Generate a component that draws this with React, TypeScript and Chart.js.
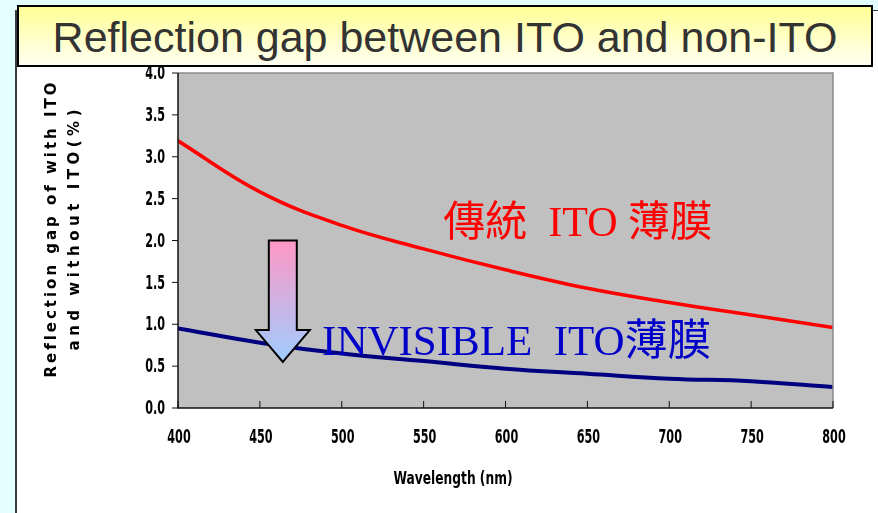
import React, { useEffect, useRef } from "react";
import { Chart, registerables } from "chart.js";

Chart.register(...registerables);

// ---- data ----
const wavelengths = [400, 450, 500, 550, 600, 650, 700, 750, 800];
const conventionalITO = [3.19, 2.58, 2.18, 1.9, 1.65, 1.43, 1.26, 1.11, 0.96];
const invisibleITO = [0.95, 0.78, 0.65, 0.56, 0.47, 0.41, 0.35, 0.32, 0.25];
const xTicks = [400, 450, 500, 550, 600, 650, 700, 750, 800];
const yTicks = [0, 0.5, 1, 1.5, 2, 2.5, 3, 3.5, 4];
const titleText = "Reflection gap between ITO and non-ITO";
const yTitleLines = ["Reflection gap of with ITO", "and without ITO(%)"];
const xTitleText = "Wavelength (nm)";
const redLabel = "傳統  ITO 薄膜";
const blueLabel = "INVISIBLE  ITO薄膜";
// annotation anchors (data coordinates)
const redLabelAt = { x: 562, y: 2.05 };
const blueLabelAt = { x: 488, y: 0.63 };
const arrowAt = { x: 464, top: 2.0, headBase: 0.93, tip: 0.55 };

const BOLD_FONT = "'DejaVu Sans', 'Liberation Sans', sans-serif";

function squeezed(ctx: CanvasRenderingContext2D, text: string, x: number, y: number, align: "left" | "center" | "right", sx: number) {
  ctx.save();
  ctx.translate(x, y);
  ctx.scale(sx, 1);
  ctx.textAlign = align;
  ctx.fillText(text, 0, 0);
  ctx.restore();
}

const decorPlugin = {
  id: "decor",
  beforeDatasetsDraw(chart: any) {
    const { ctx, chartArea: a } = chart;
    ctx.save();
    ctx.fillStyle = "#c0c0c0";
    ctx.fillRect(a.left, a.top, a.right - a.left, a.bottom - a.top);
    ctx.restore();
  },
  afterDatasetsDraw(chart: any) {
    const { ctx, chartArea: a } = chart;
    const xs = chart.scales.x;
    const ys = chart.scales.y;
    ctx.save();
    // frame
    ctx.lineWidth = 1.5;
    ctx.strokeStyle = "#8a8a8a";
    ctx.beginPath();
    ctx.moveTo(a.left, a.top);
    ctx.lineTo(a.right, a.top);
    ctx.lineTo(a.right, a.bottom);
    ctx.stroke();
    ctx.strokeStyle = "#111";
    ctx.beginPath();
    ctx.moveTo(a.left, a.top);
    ctx.lineTo(a.left, a.bottom);
    ctx.lineTo(a.right, a.bottom);
    ctx.stroke();

    // y ticks (outward) and labels
    ctx.lineWidth = 1;
    ctx.fillStyle = "#000";
    ctx.font = `bold 20px ${BOLD_FONT}`;
    ctx.textBaseline = "middle";
    yTicks.forEach((v) => {
      const py = ys.getPixelForValue(v);
      ctx.beginPath();
      ctx.moveTo(a.left - 6, py);
      ctx.lineTo(a.left, py);
      ctx.stroke();
      squeezed(ctx, v.toFixed(1), a.left - 13, py + 1, "right", 0.56);
    });
    // x ticks (inward) and labels
    xTicks.forEach((v) => {
      const px = xs.getPixelForValue(v);
      ctx.beginPath();
      ctx.moveTo(px, a.bottom);
      ctx.lineTo(px, a.bottom - 7);
      ctx.stroke();
      squeezed(ctx, String(v), px + 1, a.bottom + 30, "center", 0.56);
    });

    // x title
    ctx.font = `bold 18px ${BOLD_FONT}`;
    squeezed(ctx, xTitleText, 453, a.bottom + 71, "center", 0.68);

    // y title (rotated, spaced)
    ctx.font = "bold 15px 'DejaVu Sans', 'Liberation Sans', sans-serif";
    const targetLens = [295, 241];
    const centersX = [52, 75];
    yTitleLines.forEach((line, i) => {
      ctx.save();
      ctx.translate(centersX[i], 230);
      ctx.rotate(-Math.PI / 2);
      const chars = Array.from(line);
      const widths = chars.map((c) => ctx.measureText(c).width);
      const total = widths.reduce((s, w) => s + w, 0);
      const gap = (targetLens[i] - total) / (chars.length - 1);
      let cx = -targetLens[i] / 2;
      ctx.textAlign = "left";
      ctx.textBaseline = "middle";
      chars.forEach((c, k) => {
        ctx.fillText(c, cx, 0);
        cx += widths[k] + gap;
      });
      ctx.restore();
    });

    // arrow
    const ax = xs.getPixelForValue(arrowAt.x);
    const top = ys.getPixelForValue(arrowAt.top);
    const base = ys.getPixelForValue(arrowAt.headBase);
    const tip = ys.getPixelForValue(arrowAt.tip);
    const sw = 14;
    const hw = 27;
    const grad = ctx.createLinearGradient(0, top, 0, tip);
    grad.addColorStop(0, "#ff97c6");
    grad.addColorStop(1, "#9fcdff");
    ctx.beginPath();
    ctx.moveTo(ax - sw, top);
    ctx.lineTo(ax + sw, top);
    ctx.lineTo(ax + sw, base);
    ctx.lineTo(ax + hw, base);
    ctx.lineTo(ax, tip);
    ctx.lineTo(ax - hw, base);
    ctx.lineTo(ax - sw, base);
    ctx.closePath();
    ctx.fillStyle = grad;
    ctx.fill();
    ctx.lineWidth = 2;
    ctx.strokeStyle = "#000";
    ctx.lineJoin = "miter";
    ctx.stroke();

    // annotations
    ctx.textAlign = "left";
    ctx.textBaseline = "alphabetic";
    ctx.font = "42px 'Liberation Serif', 'Noto Sans CJK TC', serif";
    ctx.fillStyle = "#ff0000";
    ctx.fillText(redLabel, xs.getPixelForValue(redLabelAt.x), ys.getPixelForValue(redLabelAt.y));
    ctx.font = "43px 'Liberation Serif', 'Noto Sans CJK TC', serif";
    ctx.fillStyle = "#0000c8";
    ctx.fillText(blueLabel, xs.getPixelForValue(blueLabelAt.x), ys.getPixelForValue(blueLabelAt.y));
    ctx.restore();
  },
};

export default function App() {
  const ref = useRef<HTMLCanvasElement | null>(null);
  useEffect(() => {
    if (!ref.current) return;
    const chart = new Chart(ref.current, {
      type: "line",
      data: {
        datasets: [
          {
            label: "傳統 ITO 薄膜",
            data: wavelengths.map((w, i) => ({ x: w, y: conventionalITO[i] })),
            borderColor: "#ff0000",
            borderWidth: 3.5,
            pointRadius: 0,
            tension: 0.4,
          },
          {
            label: "INVISIBLE ITO薄膜",
            data: wavelengths.map((w, i) => ({ x: w, y: invisibleITO[i] })),
            borderColor: "#000080",
            borderWidth: 4,
            pointRadius: 0,
            tension: 0.4,
          },
        ],
      },
      options: {
        animation: false,
        responsive: false,
        devicePixelRatio: 1,
        layout: { padding: { left: 178, top: 73, right: 45, bottom: 105 } },
        plugins: { legend: { display: false }, tooltip: { enabled: false } },
        scales: {
          x: { type: "linear", min: 400, max: 800, display: false },
          y: { type: "linear", min: 0, max: 4, display: false },
        },
      },
      plugins: [decorPlugin],
    } as any);
    return () => chart.destroy();
  }, []);

  return (
    <div style={{ position: "fixed", left: 0, top: 0, width: 878, height: 513, background: "#e4ffff", overflow: "hidden" }}>
      <div
        style={{
          position: "absolute",
          left: 15,
          top: 10,
          right: 0,
          bottom: 0,
          background: "#ffffff",
          borderLeft: "2px solid #3a3a3a",
          borderTop: "1px solid #3a3a3a",
        }}
      />
      <canvas ref={ref} width={878} height={513} style={{ position: "absolute", left: 0, top: 0, width: 878, height: 513 }} />
      <div
        style={{
          position: "absolute",
          left: 17,
          top: 5,
          width: 852,
          height: 56,
          border: "2px solid #000",
          background: "linear-gradient(to bottom, #ffff96, #fffff2)",
          display: "flex",
          alignItems: "center",
          justifyContent: "center",
          fontFamily: "'Liberation Sans', Arial, sans-serif",
          fontSize: 43,
          color: "#333333",
          whiteSpace: "nowrap",
          paddingTop: 2,
          boxSizing: "content-box",
        }}
      >
        {titleText}
      </div>
    </div>
  );
}
